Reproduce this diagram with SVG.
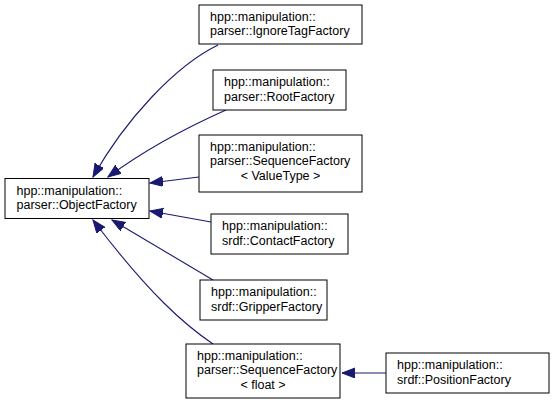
<svg xmlns="http://www.w3.org/2000/svg" width="555" height="404" viewBox="0 0 555 404">
<style>
.box{fill:#fff;stroke:#000;stroke-width:1}
.t{font-family:"Liberation Sans",Arial,sans-serif;font-size:12.5px;fill:#000}
.c{text-anchor:middle}
.e{fill:none;stroke:#191970;stroke-width:1.1}
</style>
<defs>
<marker id="ah" markerUnits="userSpaceOnUse" markerWidth="14" markerHeight="11" refX="13" refY="5" orient="auto">
<path d="M0,0 L13,5 L0,10 z" fill="#191970" stroke="#191970"/>
</marker>
</defs>
<rect width="555" height="404" fill="#fff"/>
<g id="edges">
<path class="e" marker-end="url(#ah)" d="M218,45 C175,66 125,120 93,177"/>
<path class="e" marker-end="url(#ah)" d="M226,110 C190,126 150,146 108,177"/>
<path class="e" marker-end="url(#ah)" d="M199,177 L150,183"/>
<path class="e" marker-end="url(#ah)" d="M211,222 L150,211"/>
<path class="e" marker-end="url(#ah)" d="M213,280 L112,220"/>
<path class="e" marker-end="url(#ah)" d="M213,344 C185,325 150,295 93,220"/>
<path class="e" marker-end="url(#ah)" d="M386,373 L342,373"/>
</g>
<g id="ObjectFactory">
<rect class="box" x="5" y="178.5" width="144" height="40"/>
<text class="t" x="16.5" y="194.5">hpp::manipulation::</text>
<text class="t" x="16.5" y="209">parser::ObjectFactory</text>
</g>
<g id="IgnoreTagFactory">
<rect class="box" x="199" y="5" width="163" height="39"/>
<text class="t" x="210" y="20.5">hpp::manipulation::</text>
<text class="t" x="210" y="35">parser::IgnoreTagFactory</text>
</g>
<g id="RootFactory">
<rect class="box" x="213" y="70" width="133" height="40"/>
<text class="t" x="224" y="86">hpp::manipulation::</text>
<text class="t" x="224" y="100.5">parser::RootFactory</text>
</g>
<g id="SequenceFactoryValueType">
<rect class="box" x="199" y="135" width="163" height="57"/>
<text class="t" x="210" y="150.5">hpp::manipulation::</text>
<text class="t" x="210" y="165">parser::SequenceFactory</text>
<text class="t c" x="280.5" y="179.5">&lt; ValueType &gt;</text>
</g>
<g id="ContactFactory">
<rect class="box" x="211" y="214" width="137" height="40"/>
<text class="t" x="222" y="230">hpp::manipulation::</text>
<text class="t" x="222" y="244.5">srdf::ContactFactory</text>
</g>
<g id="GripperFactory">
<rect class="box" x="200" y="280" width="127" height="40"/>
<text class="t" x="211" y="296">hpp::manipulation::</text>
<text class="t" x="211" y="310.5">srdf::GripperFactory</text>
</g>
<g id="SequenceFactoryFloat">
<rect class="box" x="186" y="344" width="154" height="54"/>
<text class="t" x="197" y="359.5">hpp::manipulation::</text>
<text class="t" x="197" y="374">parser::SequenceFactory</text>
<text class="t c" x="263" y="388.5">&lt; float &gt;</text>
</g>
<g id="PositionFactory">
<rect class="box" x="386" y="353" width="163" height="40"/>
<text class="t" x="397" y="369">hpp::manipulation::</text>
<text class="t" x="397" y="383.5">srdf::PositionFactory</text>
</g>
</svg>
